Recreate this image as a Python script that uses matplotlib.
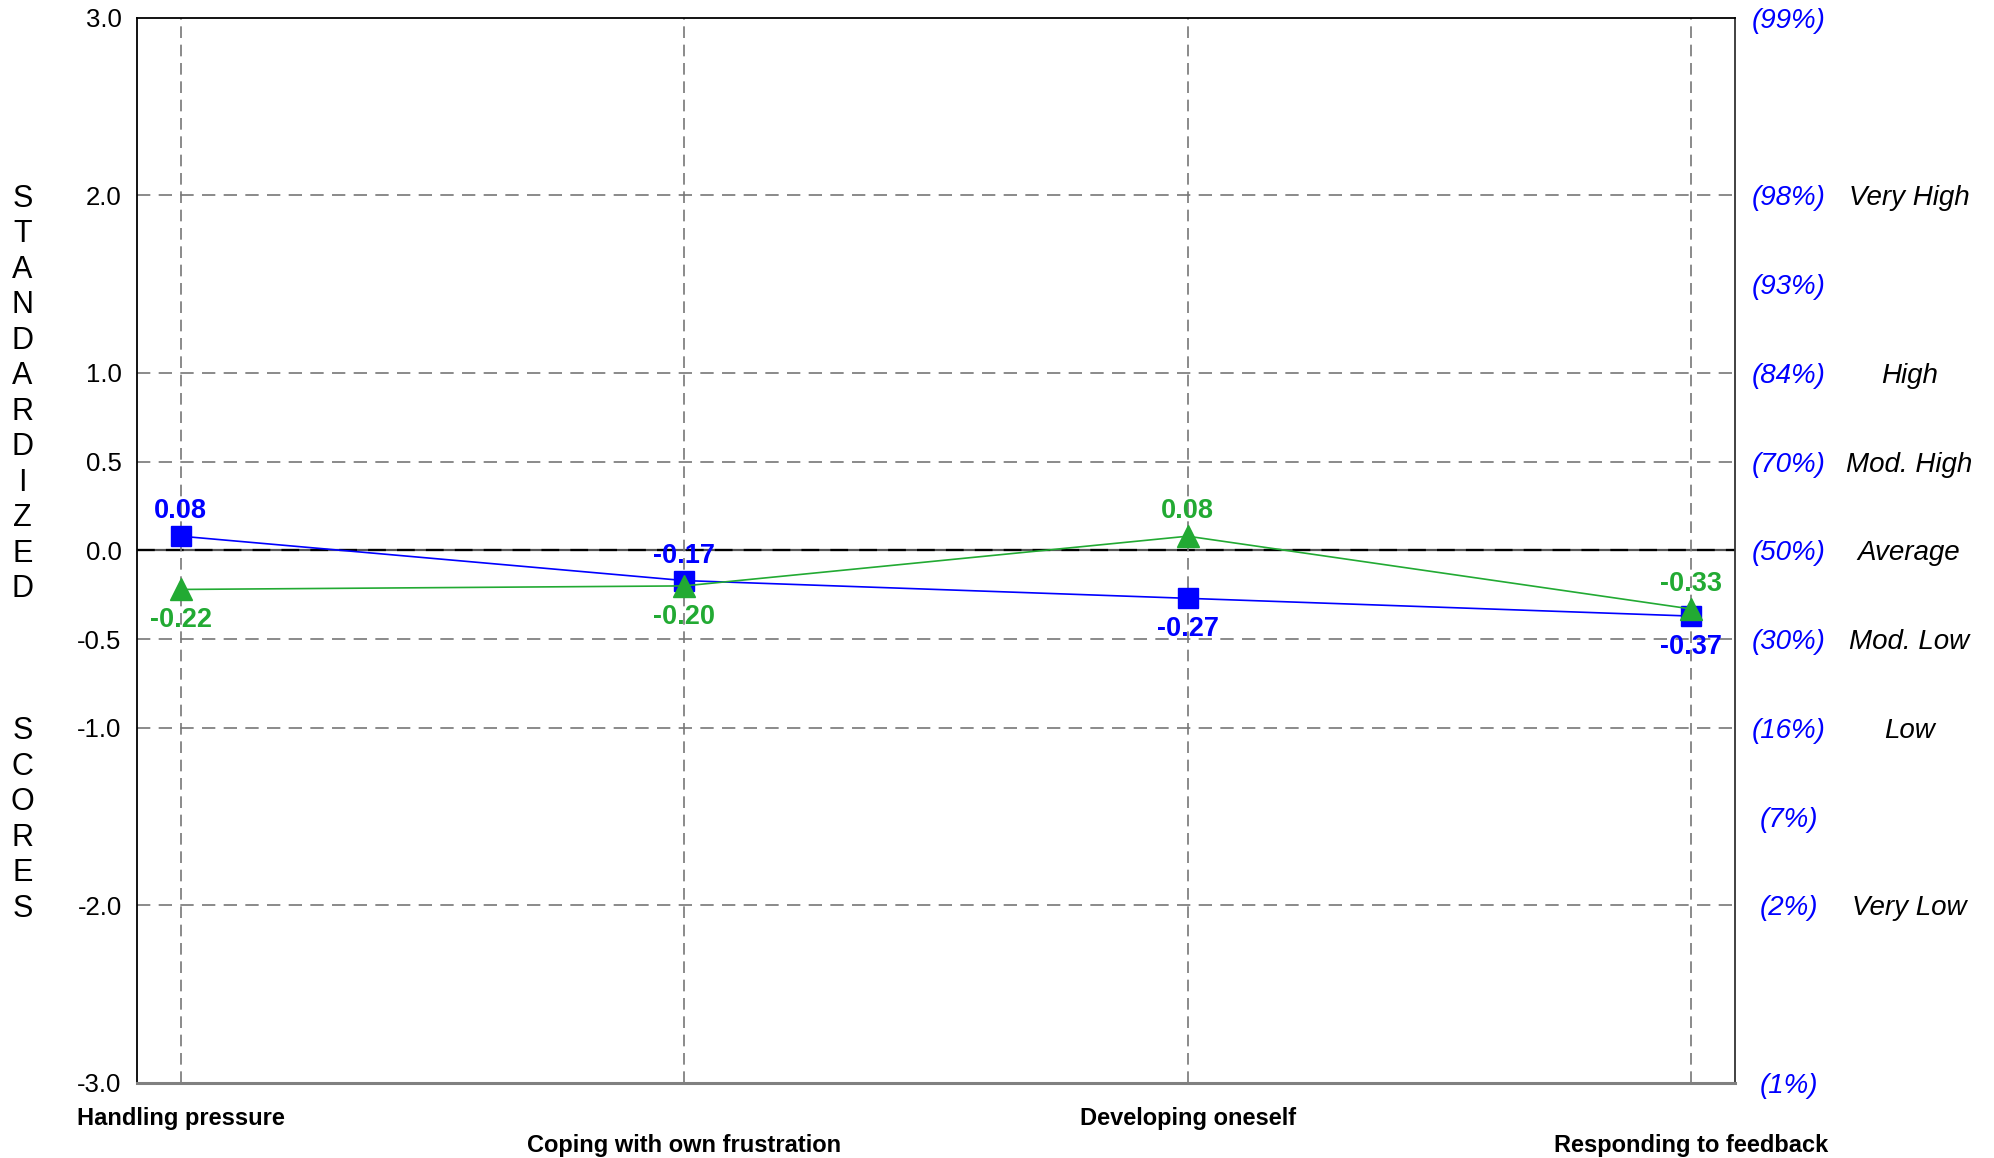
import matplotlib
matplotlib.use("Agg")
import matplotlib.pyplot as plt
import numpy as np

categories = ["Handling pressure", "Coping with own frustration",
              "Developing oneself", "Responding to feedback"]
blue_values = [0.08, -0.17, -0.27, -0.37]
green_values = [-0.22, -0.20, 0.08, -0.33]

ytick_values = [3.0, 2.0, 1.0, 0.5, 0.0, -0.5, -1.0, -2.0, -3.0]
percent_positions = [3.0, 2.0, 1.5, 1.0, 0.5, 0.0, -0.5, -1.0, -1.5, -2.0, -3.0]
percent_labels = ["(99%)", "(98%)", "(93%)", "(84%)", "(70%)", "(50%)",
                  "(30%)", "(16%)", "(7%)", "(2%)", "(1%)"]
level_positions = [2.0, 1.0, 0.5, 0.0, -0.5, -1.0, -2.0]
level_labels = ["Very High", "High", "Mod. High", "Average", "Mod. Low", "Low", "Very Low"]

word1 = "STANDARDIZED"
word2 = "SCORES"

BLUE = "#0000FF"
GREEN = "#22AA33"
GRID = "#777777"

plt.rcParams['font.family'] = ['Liberation Sans', 'DejaVu Sans']

fig = plt.figure(figsize=(19.94, 11.58), dpi=100)
ax = fig.add_axes([0.0687, 0.0648, 0.8014, 0.9198])

x = np.arange(len(categories))
ax.set_xlim(-0.087, 3.087)
ax.set_ylim(-3.0, 3.0)

# grid lines
for yv in ytick_values:
    if yv in (3.0, -3.0):
        continue
    ax.axhline(yv, color=GRID, lw=1.2, dashes=(8, 5), zorder=1)
ax.axhline(0.0, color="#555555", lw=1.6, zorder=1)
ax.axhline(0.0, color="black", lw=1.6, dashes=(8, 5), zorder=1)
for xv in x:
    ax.axvline(xv, color=GRID, lw=1.2, dashes=(7, 4), zorder=1)

# series
ax.plot(x, blue_values, color=BLUE, lw=1.2, marker="s", markersize=15,
        markerfacecolor=BLUE, markeredgecolor=BLUE, zorder=3)
ax.plot(x, green_values, color=GREEN, lw=1.2, marker="^", markersize=16,
        markerfacecolor=GREEN, markeredgecolor=GREEN, zorder=4)

# value labels
for i in range(len(categories)):
    b, g = blue_values[i], green_values[i]
    b_up = b >= g
    for val, col, up in ((b, BLUE, b_up), (g, GREEN, not b_up)):
        ax.annotate(f"{val:.2f}", (x[i], val), xytext=(0, 20 if up else -20),
                    textcoords="offset points", ha="center", va="center_baseline",
                    color=col, fontsize=19.5, fontweight="bold", zorder=5)

# y ticks
ax.set_yticks(ytick_values)
ax.set_yticklabels([f"{v:.1f}" for v in ytick_values], fontsize=18.5)
ax.tick_params(axis="y", length=0, pad=11)
ax.set_xticks([])

# category labels (alternating rows)
xtrans = ax.get_xaxis_transform()
for i, cat in enumerate(categories):
    yoff = -0.0335 if i % 2 == 0 else -0.059
    ax.text(x[i], yoff, cat, transform=xtrans, ha="center", va="center",
            fontsize=17, fontweight="bold", color="black")

# right side labels
ytrans = ax.get_yaxis_transform()
for yv, lab in zip(percent_positions, percent_labels):
    ax.text(1.0335, yv, lab, transform=ytrans, ha="center", va="center_baseline",
            fontsize=20, style="italic", color=BLUE)
for yv, lab in zip(level_positions, level_labels):
    ax.text(1.109, yv, lab, transform=ytrans, ha="center", va="center_baseline",
            fontsize=20, style="italic", color="black")

# vertical stacked axis title
for k, ch in enumerate(word1):
    ax.text(-0.0717, 2.0 - 0.2 * k, ch, transform=ytrans, ha="center",
            va="center_baseline", fontsize=22, color="black")
for k, ch in enumerate(word2):
    ax.text(-0.0717, -1.0 - 0.2 * k, ch, transform=ytrans, ha="center",
            va="center_baseline", fontsize=22, color="black")

# spines
ax.spines["left"].set_color("black")
ax.spines["left"].set_linewidth(1.3)
ax.spines["top"].set_color("black")
ax.spines["top"].set_linewidth(1.3)
ax.spines["right"].set_color("#333333")
ax.spines["right"].set_linewidth(1.3)
ax.spines["bottom"].set_color("#808080")
ax.spines["bottom"].set_linewidth(2.2)

fig.savefig("out.png", dpi=100)
